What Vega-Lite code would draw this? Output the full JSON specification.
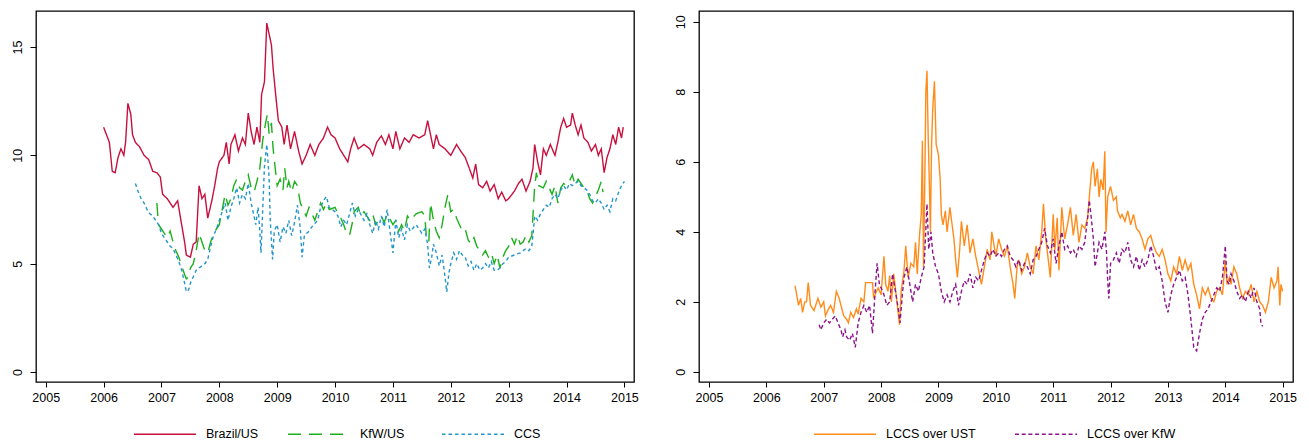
{
  "$schema": "https://vega.github.io/schema/vega-lite/v6.json",
  "background": "white",
  "padding": {"left": 10, "top": 10, "right": 0, "bottom": 0},
  "bounds": "flush",
  "spacing": 65,
  "config": {
    "font": "Liberation Sans",
    "view": {"stroke": "black", "strokeWidth": 1.3},
    "axis": {
      "domain": false, "grid": false, "title": null,
      "tickColor": "black", "tickSize": 6, "tickWidth": 1,
      "labelFont": "Liberation Sans", "labelFontSize": 12.5, "labelColor": "black",
      "labelOverlap": false, "labelFlush": false
    },
    "legend": {
      "orient": "none", "direction": "horizontal", "title": null,
      "symbolType": "stroke", "symbolSize": 3844, "symbolStrokeWidth": 1.4,
      "labelFont": "Liberation Sans", "labelFontSize": 12.5, "labelColor": "black",
      "labelOffset": 9, "gridAlign": "all", "columns": 3
    }
  },
  "datasets": {
    "left": [
      {"t":2006.0,"s":"Brazil/US","v":11.3},{"t":2006.05,"s":"Brazil/US","v":10.95},{"t":2006.1,"s":"Brazil/US","v":10.6},{"t":2006.15,"s":"Brazil/US","v":9.26},{"t":2006.2,"s":"Brazil/US","v":9.2},{"t":2006.25,"s":"Brazil/US","v":9.9},{"t":2006.3,"s":"Brazil/US","v":10.3},{"t":2006.35,"s":"Brazil/US","v":10.0},{"t":2006.38,"s":"Brazil/US","v":10.6},{"t":2006.42,"s":"Brazil/US","v":12.4},{"t":2006.47,"s":"Brazil/US","v":11.9},{"t":2006.5,"s":"Brazil/US","v":10.95},{"t":2006.55,"s":"Brazil/US","v":10.6},{"t":2006.62,"s":"Brazil/US","v":10.4},{"t":2006.7,"s":"Brazil/US","v":10.0},{"t":2006.78,"s":"Brazil/US","v":9.8},{"t":2006.85,"s":"Brazil/US","v":9.26},{"t":2006.92,"s":"Brazil/US","v":9.2},{"t":2006.98,"s":"Brazil/US","v":9.0},{"t":2007.02,"s":"Brazil/US","v":8.2},{"t":2007.1,"s":"Brazil/US","v":8.0},{"t":2007.2,"s":"Brazil/US","v":7.6},{"t":2007.28,"s":"Brazil/US","v":7.9},{"t":2007.33,"s":"Brazil/US","v":7.1},{"t":2007.4,"s":"Brazil/US","v":6.0},{"t":2007.43,"s":"Brazil/US","v":5.4},{"t":2007.5,"s":"Brazil/US","v":5.3},{"t":2007.55,"s":"Brazil/US","v":5.9},{"t":2007.6,"s":"Brazil/US","v":6.0},{"t":2007.65,"s":"Brazil/US","v":8.6},{"t":2007.7,"s":"Brazil/US","v":8.0},{"t":2007.75,"s":"Brazil/US","v":8.2},{"t":2007.8,"s":"Brazil/US","v":7.1},{"t":2007.87,"s":"Brazil/US","v":7.9},{"t":2007.92,"s":"Brazil/US","v":8.6},{"t":2007.97,"s":"Brazil/US","v":9.4},{"t":2008.0,"s":"Brazil/US","v":9.7},{"t":2008.08,"s":"Brazil/US","v":10.0},{"t":2008.12,"s":"Brazil/US","v":10.6},{"t":2008.17,"s":"Brazil/US","v":9.6},{"t":2008.2,"s":"Brazil/US","v":10.5},{"t":2008.27,"s":"Brazil/US","v":10.95},{"t":2008.33,"s":"Brazil/US","v":10.2},{"t":2008.4,"s":"Brazil/US","v":10.8},{"t":2008.45,"s":"Brazil/US","v":10.5},{"t":2008.5,"s":"Brazil/US","v":11.95},{"t":2008.55,"s":"Brazil/US","v":11.1},{"t":2008.6,"s":"Brazil/US","v":10.5},{"t":2008.65,"s":"Brazil/US","v":11.3},{"t":2008.7,"s":"Brazil/US","v":10.6},{"t":2008.73,"s":"Brazil/US","v":12.8},{"t":2008.78,"s":"Brazil/US","v":13.4},{"t":2008.82,"s":"Brazil/US","v":16.1},{"t":2008.86,"s":"Brazil/US","v":15.6},{"t":2008.9,"s":"Brazil/US","v":15.1},{"t":2008.93,"s":"Brazil/US","v":14.0},{"t":2008.97,"s":"Brazil/US","v":12.9},{"t":2009.02,"s":"Brazil/US","v":11.6},{"t":2009.08,"s":"Brazil/US","v":11.3},{"t":2009.12,"s":"Brazil/US","v":10.5},{"t":2009.17,"s":"Brazil/US","v":11.4},{"t":2009.23,"s":"Brazil/US","v":10.3},{"t":2009.3,"s":"Brazil/US","v":11.1},{"t":2009.37,"s":"Brazil/US","v":10.2},{"t":2009.43,"s":"Brazil/US","v":9.6},{"t":2009.5,"s":"Brazil/US","v":10.0},{"t":2009.57,"s":"Brazil/US","v":10.5},{"t":2009.65,"s":"Brazil/US","v":10.0},{"t":2009.72,"s":"Brazil/US","v":10.5},{"t":2009.8,"s":"Brazil/US","v":10.8},{"t":2009.87,"s":"Brazil/US","v":11.3},{"t":2009.93,"s":"Brazil/US","v":10.95},{"t":2010.0,"s":"Brazil/US","v":10.8},{"t":2010.08,"s":"Brazil/US","v":10.3},{"t":2010.15,"s":"Brazil/US","v":10.0},{"t":2010.22,"s":"Brazil/US","v":9.7},{"t":2010.27,"s":"Brazil/US","v":10.3},{"t":2010.33,"s":"Brazil/US","v":10.8},{"t":2010.4,"s":"Brazil/US","v":10.3},{"t":2010.5,"s":"Brazil/US","v":10.5},{"t":2010.6,"s":"Brazil/US","v":10.3},{"t":2010.65,"s":"Brazil/US","v":10.0},{"t":2010.72,"s":"Brazil/US","v":10.6},{"t":2010.8,"s":"Brazil/US","v":10.9},{"t":2010.87,"s":"Brazil/US","v":10.5},{"t":2010.93,"s":"Brazil/US","v":10.95},{"t":2011.0,"s":"Brazil/US","v":10.3},{"t":2011.05,"s":"Brazil/US","v":11.1},{"t":2011.12,"s":"Brazil/US","v":10.3},{"t":2011.2,"s":"Brazil/US","v":10.8},{"t":2011.28,"s":"Brazil/US","v":10.6},{"t":2011.35,"s":"Brazil/US","v":10.95},{"t":2011.45,"s":"Brazil/US","v":10.8},{"t":2011.55,"s":"Brazil/US","v":10.95},{"t":2011.6,"s":"Brazil/US","v":11.6},{"t":2011.65,"s":"Brazil/US","v":10.95},{"t":2011.7,"s":"Brazil/US","v":10.3},{"t":2011.75,"s":"Brazil/US","v":10.95},{"t":2011.8,"s":"Brazil/US","v":10.5},{"t":2011.9,"s":"Brazil/US","v":10.3},{"t":2012.0,"s":"Brazil/US","v":10.0},{"t":2012.1,"s":"Brazil/US","v":10.5},{"t":2012.17,"s":"Brazil/US","v":10.2},{"t":2012.25,"s":"Brazil/US","v":9.9},{"t":2012.32,"s":"Brazil/US","v":9.4},{"t":2012.38,"s":"Brazil/US","v":8.95},{"t":2012.43,"s":"Brazil/US","v":9.6},{"t":2012.48,"s":"Brazil/US","v":8.65},{"t":2012.55,"s":"Brazil/US","v":8.5},{"t":2012.62,"s":"Brazil/US","v":8.8},{"t":2012.68,"s":"Brazil/US","v":8.35},{"t":2012.75,"s":"Brazil/US","v":8.65},{"t":2012.82,"s":"Brazil/US","v":8.0},{"t":2012.88,"s":"Brazil/US","v":8.3},{"t":2012.95,"s":"Brazil/US","v":7.9},{"t":2013.0,"s":"Brazil/US","v":8.0},{"t":2013.1,"s":"Brazil/US","v":8.35},{"t":2013.17,"s":"Brazil/US","v":8.7},{"t":2013.23,"s":"Brazil/US","v":8.9},{"t":2013.3,"s":"Brazil/US","v":8.35},{"t":2013.37,"s":"Brazil/US","v":8.8},{"t":2013.42,"s":"Brazil/US","v":9.4},{"t":2013.45,"s":"Brazil/US","v":10.5},{"t":2013.5,"s":"Brazil/US","v":9.7},{"t":2013.55,"s":"Brazil/US","v":9.1},{"t":2013.6,"s":"Brazil/US","v":10.3},{"t":2013.65,"s":"Brazil/US","v":10.0},{"t":2013.72,"s":"Brazil/US","v":10.5},{"t":2013.8,"s":"Brazil/US","v":10.0},{"t":2013.85,"s":"Brazil/US","v":10.6},{"t":2013.9,"s":"Brazil/US","v":11.3},{"t":2013.95,"s":"Brazil/US","v":11.7},{"t":2014.0,"s":"Brazil/US","v":11.3},{"t":2014.07,"s":"Brazil/US","v":11.4},{"t":2014.1,"s":"Brazil/US","v":11.95},{"t":2014.15,"s":"Brazil/US","v":11.4},{"t":2014.2,"s":"Brazil/US","v":10.95},{"t":2014.25,"s":"Brazil/US","v":11.4},{"t":2014.3,"s":"Brazil/US","v":10.8},{"t":2014.37,"s":"Brazil/US","v":10.6},{"t":2014.43,"s":"Brazil/US","v":10.2},{"t":2014.5,"s":"Brazil/US","v":10.5},{"t":2014.55,"s":"Brazil/US","v":10.0},{"t":2014.6,"s":"Brazil/US","v":10.3},{"t":2014.65,"s":"Brazil/US","v":9.2},{"t":2014.7,"s":"Brazil/US","v":9.9},{"t":2014.75,"s":"Brazil/US","v":10.3},{"t":2014.8,"s":"Brazil/US","v":10.95},{"t":2014.85,"s":"Brazil/US","v":10.5},{"t":2014.9,"s":"Brazil/US","v":11.3},{"t":2014.95,"s":"Brazil/US","v":10.8},{"t":2014.98,"s":"Brazil/US","v":11.3},
      {"t":2006.92,"s":"KfW/US","v":7.8},{"t":2006.95,"s":"KfW/US","v":6.8},{"t":2007.0,"s":"KfW/US","v":6.6},{"t":2007.05,"s":"KfW/US","v":6.4},{"t":2007.1,"s":"KfW/US","v":6.2},{"t":2007.15,"s":"KfW/US","v":6.5},{"t":2007.2,"s":"KfW/US","v":6.0},{"t":2007.25,"s":"KfW/US","v":5.6},{"t":2007.3,"s":"KfW/US","v":5.3},{"t":2007.35,"s":"KfW/US","v":4.9},{"t":2007.4,"s":"KfW/US","v":4.5},{"t":2007.43,"s":"KfW/US","v":4.3},{"t":2007.47,"s":"KfW/US","v":4.4},{"t":2007.5,"s":"KfW/US","v":4.8},{"t":2007.55,"s":"KfW/US","v":5.0},{"t":2007.6,"s":"KfW/US","v":5.6},{"t":2007.65,"s":"KfW/US","v":6.4},{"t":2007.7,"s":"KfW/US","v":6.0},{"t":2007.75,"s":"KfW/US","v":5.6},{"t":2007.8,"s":"KfW/US","v":5.5},{"t":2007.85,"s":"KfW/US","v":6.0},{"t":2007.9,"s":"KfW/US","v":6.4},{"t":2007.95,"s":"KfW/US","v":6.6},{"t":2008.0,"s":"KfW/US","v":6.8},{"t":2008.05,"s":"KfW/US","v":7.5},{"t":2008.1,"s":"KfW/US","v":8.2},{"t":2008.15,"s":"KfW/US","v":7.7},{"t":2008.2,"s":"KfW/US","v":8.0},{"t":2008.25,"s":"KfW/US","v":8.6},{"t":2008.3,"s":"KfW/US","v":8.9},{"t":2008.35,"s":"KfW/US","v":8.5},{"t":2008.4,"s":"KfW/US","v":8.4},{"t":2008.45,"s":"KfW/US","v":8.8},{"t":2008.5,"s":"KfW/US","v":9.1},{"t":2008.55,"s":"KfW/US","v":8.5},{"t":2008.6,"s":"KfW/US","v":8.3},{"t":2008.65,"s":"KfW/US","v":8.8},{"t":2008.7,"s":"KfW/US","v":9.4},{"t":2008.75,"s":"KfW/US","v":10.7},{"t":2008.8,"s":"KfW/US","v":11.5},{"t":2008.83,"s":"KfW/US","v":11.9},{"t":2008.86,"s":"KfW/US","v":11.0},{"t":2008.9,"s":"KfW/US","v":11.5},{"t":2008.93,"s":"KfW/US","v":10.3},{"t":2008.97,"s":"KfW/US","v":9.3},{"t":2009.0,"s":"KfW/US","v":8.6},{"t":2009.05,"s":"KfW/US","v":8.9},{"t":2009.1,"s":"KfW/US","v":8.4},{"t":2009.13,"s":"KfW/US","v":9.4},{"t":2009.17,"s":"KfW/US","v":8.5},{"t":2009.2,"s":"KfW/US","v":8.8},{"t":2009.25,"s":"KfW/US","v":8.3},{"t":2009.3,"s":"KfW/US","v":8.8},{"t":2009.35,"s":"KfW/US","v":8.6},{"t":2009.4,"s":"KfW/US","v":7.8},{"t":2009.45,"s":"KfW/US","v":7.5},{"t":2009.5,"s":"KfW/US","v":7.2},{"t":2009.55,"s":"KfW/US","v":7.6},{"t":2009.6,"s":"KfW/US","v":7.3},{"t":2009.65,"s":"KfW/US","v":7.0},{"t":2009.7,"s":"KfW/US","v":7.4},{"t":2009.75,"s":"KfW/US","v":7.8},{"t":2009.8,"s":"KfW/US","v":7.5},{"t":2009.85,"s":"KfW/US","v":7.8},{"t":2009.9,"s":"KfW/US","v":7.5},{"t":2010.0,"s":"KfW/US","v":7.6},{"t":2010.05,"s":"KfW/US","v":7.3},{"t":2010.1,"s":"KfW/US","v":7.1},{"t":2010.15,"s":"KfW/US","v":6.8},{"t":2010.2,"s":"KfW/US","v":6.4},{"t":2010.25,"s":"KfW/US","v":6.3},{"t":2010.3,"s":"KfW/US","v":6.9},{"t":2010.33,"s":"KfW/US","v":7.4},{"t":2010.4,"s":"KfW/US","v":7.6},{"t":2010.45,"s":"KfW/US","v":7.2},{"t":2010.5,"s":"KfW/US","v":7.4},{"t":2010.6,"s":"KfW/US","v":7.0},{"t":2010.65,"s":"KfW/US","v":7.3},{"t":2010.7,"s":"KfW/US","v":6.8},{"t":2010.8,"s":"KfW/US","v":7.2},{"t":2010.85,"s":"KfW/US","v":6.9},{"t":2010.9,"s":"KfW/US","v":7.3},{"t":2011.0,"s":"KfW/US","v":6.8},{"t":2011.05,"s":"KfW/US","v":7.0},{"t":2011.1,"s":"KfW/US","v":6.5},{"t":2011.15,"s":"KfW/US","v":6.8},{"t":2011.2,"s":"KfW/US","v":6.5},{"t":2011.25,"s":"KfW/US","v":7.2},{"t":2011.3,"s":"KfW/US","v":7.0},{"t":2011.4,"s":"KfW/US","v":7.3},{"t":2011.5,"s":"KfW/US","v":7.4},{"t":2011.55,"s":"KfW/US","v":7.2},{"t":2011.58,"s":"KfW/US","v":6.2},{"t":2011.62,"s":"KfW/US","v":6.0},{"t":2011.65,"s":"KfW/US","v":7.8},{"t":2011.7,"s":"KfW/US","v":7.0},{"t":2011.75,"s":"KfW/US","v":6.5},{"t":2011.8,"s":"KfW/US","v":6.2},{"t":2011.85,"s":"KfW/US","v":6.8},{"t":2011.9,"s":"KfW/US","v":7.6},{"t":2011.95,"s":"KfW/US","v":8.2},{"t":2012.0,"s":"KfW/US","v":7.4},{"t":2012.05,"s":"KfW/US","v":7.5},{"t":2012.1,"s":"KfW/US","v":7.1},{"t":2012.15,"s":"KfW/US","v":6.8},{"t":2012.2,"s":"KfW/US","v":6.5},{"t":2012.25,"s":"KfW/US","v":6.6},{"t":2012.3,"s":"KfW/US","v":6.1},{"t":2012.35,"s":"KfW/US","v":5.9},{"t":2012.4,"s":"KfW/US","v":6.2},{"t":2012.45,"s":"KfW/US","v":5.8},{"t":2012.5,"s":"KfW/US","v":5.6},{"t":2012.55,"s":"KfW/US","v":5.4},{"t":2012.6,"s":"KfW/US","v":5.6},{"t":2012.65,"s":"KfW/US","v":5.3},{"t":2012.7,"s":"KfW/US","v":5.5},{"t":2012.75,"s":"KfW/US","v":5.0},{"t":2012.8,"s":"KfW/US","v":5.4},{"t":2012.85,"s":"KfW/US","v":4.8},{"t":2012.9,"s":"KfW/US","v":5.3},{"t":2012.95,"s":"KfW/US","v":5.6},{"t":2013.0,"s":"KfW/US","v":5.8},{"t":2013.05,"s":"KfW/US","v":6.2},{"t":2013.1,"s":"KfW/US","v":5.9},{"t":2013.15,"s":"KfW/US","v":6.3},{"t":2013.2,"s":"KfW/US","v":5.9},{"t":2013.25,"s":"KfW/US","v":6.0},{"t":2013.3,"s":"KfW/US","v":6.3},{"t":2013.35,"s":"KfW/US","v":6.0},{"t":2013.4,"s":"KfW/US","v":6.3},{"t":2013.43,"s":"KfW/US","v":7.7},{"t":2013.45,"s":"KfW/US","v":8.6},{"t":2013.48,"s":"KfW/US","v":9.2},{"t":2013.52,"s":"KfW/US","v":8.6},{"t":2013.6,"s":"KfW/US","v":8.5},{"t":2013.65,"s":"KfW/US","v":8.8},{"t":2013.7,"s":"KfW/US","v":8.5},{"t":2013.75,"s":"KfW/US","v":8.2},{"t":2013.8,"s":"KfW/US","v":8.6},{"t":2013.85,"s":"KfW/US","v":7.8},{"t":2013.9,"s":"KfW/US","v":8.5},{"t":2013.95,"s":"KfW/US","v":8.7},{"t":2014.0,"s":"KfW/US","v":8.6},{"t":2014.05,"s":"KfW/US","v":8.8},{"t":2014.1,"s":"KfW/US","v":9.1},{"t":2014.15,"s":"KfW/US","v":8.6},{"t":2014.2,"s":"KfW/US","v":8.9},{"t":2014.25,"s":"KfW/US","v":8.7},{"t":2014.3,"s":"KfW/US","v":8.5},{"t":2014.35,"s":"KfW/US","v":8.4},{"t":2014.4,"s":"KfW/US","v":8.0},{"t":2014.45,"s":"KfW/US","v":7.8},{"t":2014.5,"s":"KfW/US","v":8.1},{"t":2014.55,"s":"KfW/US","v":8.4},{"t":2014.6,"s":"KfW/US","v":8.8},{"t":2014.63,"s":"KfW/US","v":8.3},
      {"t":2006.55,"s":"CCS","v":8.7},{"t":2006.6,"s":"CCS","v":8.3},{"t":2006.65,"s":"CCS","v":8.0},{"t":2006.7,"s":"CCS","v":7.8},{"t":2006.75,"s":"CCS","v":7.5},{"t":2006.8,"s":"CCS","v":7.3},{"t":2006.85,"s":"CCS","v":7.2},{"t":2006.9,"s":"CCS","v":7.0},{"t":2006.95,"s":"CCS","v":6.8},{"t":2007.0,"s":"CCS","v":6.4},{"t":2007.05,"s":"CCS","v":6.2},{"t":2007.1,"s":"CCS","v":6.0},{"t":2007.15,"s":"CCS","v":5.8},{"t":2007.2,"s":"CCS","v":5.7},{"t":2007.25,"s":"CCS","v":5.4},{"t":2007.3,"s":"CCS","v":5.1},{"t":2007.35,"s":"CCS","v":4.7},{"t":2007.4,"s":"CCS","v":4.1},{"t":2007.43,"s":"CCS","v":3.7},{"t":2007.47,"s":"CCS","v":3.8},{"t":2007.5,"s":"CCS","v":4.1},{"t":2007.55,"s":"CCS","v":4.4},{"t":2007.6,"s":"CCS","v":4.7},{"t":2007.7,"s":"CCS","v":4.9},{"t":2007.75,"s":"CCS","v":5.0},{"t":2007.8,"s":"CCS","v":5.2},{"t":2007.85,"s":"CCS","v":5.8},{"t":2007.9,"s":"CCS","v":6.3},{"t":2007.95,"s":"CCS","v":6.6},{"t":2008.0,"s":"CCS","v":7.0},{"t":2008.05,"s":"CCS","v":7.4},{"t":2008.1,"s":"CCS","v":7.8},{"t":2008.15,"s":"CCS","v":7.0},{"t":2008.2,"s":"CCS","v":7.6},{"t":2008.25,"s":"CCS","v":8.0},{"t":2008.3,"s":"CCS","v":8.5},{"t":2008.35,"s":"CCS","v":7.8},{"t":2008.4,"s":"CCS","v":8.2},{"t":2008.45,"s":"CCS","v":8.0},{"t":2008.5,"s":"CCS","v":8.7},{"t":2008.55,"s":"CCS","v":7.8},{"t":2008.6,"s":"CCS","v":7.2},{"t":2008.63,"s":"CCS","v":6.8},{"t":2008.67,"s":"CCS","v":7.6},{"t":2008.7,"s":"CCS","v":6.5},{"t":2008.72,"s":"CCS","v":5.5},{"t":2008.75,"s":"CCS","v":7.5},{"t":2008.78,"s":"CCS","v":9.5},{"t":2008.82,"s":"CCS","v":10.5},{"t":2008.86,"s":"CCS","v":9.0},{"t":2008.88,"s":"CCS","v":7.0},{"t":2008.92,"s":"CCS","v":5.2},{"t":2008.95,"s":"CCS","v":6.5},{"t":2009.0,"s":"CCS","v":6.8},{"t":2009.05,"s":"CCS","v":6.0},{"t":2009.1,"s":"CCS","v":6.7},{"t":2009.15,"s":"CCS","v":6.4},{"t":2009.2,"s":"CCS","v":7.0},{"t":2009.25,"s":"CCS","v":6.3},{"t":2009.3,"s":"CCS","v":6.9},{"t":2009.35,"s":"CCS","v":7.7},{"t":2009.4,"s":"CCS","v":6.6},{"t":2009.43,"s":"CCS","v":5.3},{"t":2009.47,"s":"CCS","v":6.3},{"t":2009.55,"s":"CCS","v":6.5},{"t":2009.6,"s":"CCS","v":6.7},{"t":2009.7,"s":"CCS","v":7.0},{"t":2009.75,"s":"CCS","v":7.6},{"t":2009.8,"s":"CCS","v":7.9},{"t":2009.85,"s":"CCS","v":8.1},{"t":2009.9,"s":"CCS","v":7.6},{"t":2010.0,"s":"CCS","v":7.4},{"t":2010.05,"s":"CCS","v":7.2},{"t":2010.1,"s":"CCS","v":6.7},{"t":2010.15,"s":"CCS","v":7.0},{"t":2010.2,"s":"CCS","v":6.8},{"t":2010.25,"s":"CCS","v":7.3},{"t":2010.3,"s":"CCS","v":7.8},{"t":2010.35,"s":"CCS","v":7.2},{"t":2010.4,"s":"CCS","v":7.5},{"t":2010.5,"s":"CCS","v":7.0},{"t":2010.55,"s":"CCS","v":7.3},{"t":2010.6,"s":"CCS","v":6.8},{"t":2010.65,"s":"CCS","v":6.4},{"t":2010.7,"s":"CCS","v":7.0},{"t":2010.75,"s":"CCS","v":6.6},{"t":2010.8,"s":"CCS","v":7.2},{"t":2010.85,"s":"CCS","v":6.7},{"t":2010.9,"s":"CCS","v":7.5},{"t":2010.95,"s":"CCS","v":6.5},{"t":2011.0,"s":"CCS","v":5.5},{"t":2011.05,"s":"CCS","v":7.0},{"t":2011.1,"s":"CCS","v":6.2},{"t":2011.15,"s":"CCS","v":6.6},{"t":2011.2,"s":"CCS","v":6.1},{"t":2011.25,"s":"CCS","v":6.8},{"t":2011.3,"s":"CCS","v":6.5},{"t":2011.4,"s":"CCS","v":6.8},{"t":2011.5,"s":"CCS","v":6.4},{"t":2011.55,"s":"CCS","v":6.6},{"t":2011.6,"s":"CCS","v":5.9},{"t":2011.63,"s":"CCS","v":4.8},{"t":2011.67,"s":"CCS","v":5.3},{"t":2011.7,"s":"CCS","v":5.9},{"t":2011.75,"s":"CCS","v":5.5},{"t":2011.8,"s":"CCS","v":4.9},{"t":2011.85,"s":"CCS","v":5.4},{"t":2011.9,"s":"CCS","v":4.4},{"t":2011.93,"s":"CCS","v":3.7},{"t":2011.97,"s":"CCS","v":4.6},{"t":2012.0,"s":"CCS","v":5.0},{"t":2012.05,"s":"CCS","v":5.5},{"t":2012.1,"s":"CCS","v":5.2},{"t":2012.15,"s":"CCS","v":5.6},{"t":2012.2,"s":"CCS","v":5.4},{"t":2012.25,"s":"CCS","v":5.3},{"t":2012.3,"s":"CCS","v":4.9},{"t":2012.35,"s":"CCS","v":5.1},{"t":2012.4,"s":"CCS","v":4.7},{"t":2012.45,"s":"CCS","v":5.0},{"t":2012.5,"s":"CCS","v":4.7},{"t":2012.55,"s":"CCS","v":4.8},{"t":2012.6,"s":"CCS","v":5.0},{"t":2012.65,"s":"CCS","v":4.8},{"t":2012.7,"s":"CCS","v":5.1},{"t":2012.75,"s":"CCS","v":4.7},{"t":2012.8,"s":"CCS","v":4.7},{"t":2012.85,"s":"CCS","v":4.8},{"t":2012.9,"s":"CCS","v":5.0},{"t":2012.95,"s":"CCS","v":5.1},{"t":2013.0,"s":"CCS","v":5.3},{"t":2013.1,"s":"CCS","v":5.4},{"t":2013.2,"s":"CCS","v":5.5},{"t":2013.3,"s":"CCS","v":5.7},{"t":2013.35,"s":"CCS","v":5.6},{"t":2013.4,"s":"CCS","v":5.8},{"t":2013.43,"s":"CCS","v":6.6},{"t":2013.45,"s":"CCS","v":7.2},{"t":2013.5,"s":"CCS","v":7.0},{"t":2013.55,"s":"CCS","v":7.3},{"t":2013.6,"s":"CCS","v":7.5},{"t":2013.65,"s":"CCS","v":7.7},{"t":2013.7,"s":"CCS","v":7.6},{"t":2013.75,"s":"CCS","v":8.0},{"t":2013.8,"s":"CCS","v":8.2},{"t":2013.85,"s":"CCS","v":8.0},{"t":2013.9,"s":"CCS","v":8.4},{"t":2013.95,"s":"CCS","v":8.6},{"t":2014.0,"s":"CCS","v":8.4},{"t":2014.05,"s":"CCS","v":8.7},{"t":2014.1,"s":"CCS","v":8.6},{"t":2014.15,"s":"CCS","v":8.7},{"t":2014.2,"s":"CCS","v":8.8},{"t":2014.25,"s":"CCS","v":8.6},{"t":2014.3,"s":"CCS","v":8.5},{"t":2014.35,"s":"CCS","v":8.4},{"t":2014.4,"s":"CCS","v":8.2},{"t":2014.45,"s":"CCS","v":7.9},{"t":2014.5,"s":"CCS","v":7.8},{"t":2014.55,"s":"CCS","v":8.0},{"t":2014.6,"s":"CCS","v":7.8},{"t":2014.65,"s":"CCS","v":7.5},{"t":2014.7,"s":"CCS","v":7.7},{"t":2014.75,"s":"CCS","v":7.4},{"t":2014.8,"s":"CCS","v":8.0},{"t":2014.85,"s":"CCS","v":7.9},{"t":2014.9,"s":"CCS","v":8.3},{"t":2014.95,"s":"CCS","v":8.6},{"t":2015.0,"s":"CCS","v":8.8}
    ],
    "right": [
      {"t":2006.5,"s":"LCCS over UST","v":2.46},{"t":2006.53,"s":"LCCS over UST","v":2.2},{"t":2006.56,"s":"LCCS over UST","v":1.9},{"t":2006.6,"s":"LCCS over UST","v":2.1},{"t":2006.63,"s":"LCCS over UST","v":1.7},{"t":2006.67,"s":"LCCS over UST","v":2.0},{"t":2006.7,"s":"LCCS over UST","v":2.0},{"t":2006.73,"s":"LCCS over UST","v":2.55},{"t":2006.77,"s":"LCCS over UST","v":1.9},{"t":2006.83,"s":"LCCS over UST","v":1.75},{"t":2006.9,"s":"LCCS over UST","v":2.1},{"t":2006.95,"s":"LCCS over UST","v":1.85},{"t":2007.0,"s":"LCCS over UST","v":2.0},{"t":2007.03,"s":"LCCS over UST","v":1.6},{"t":2007.07,"s":"LCCS over UST","v":1.75},{"t":2007.12,"s":"LCCS over UST","v":1.9},{"t":2007.17,"s":"LCCS over UST","v":1.7},{"t":2007.22,"s":"LCCS over UST","v":2.3},{"t":2007.27,"s":"LCCS over UST","v":2.1},{"t":2007.3,"s":"LCCS over UST","v":1.9},{"t":2007.35,"s":"LCCS over UST","v":1.6},{"t":2007.4,"s":"LCCS over UST","v":1.5},{"t":2007.43,"s":"LCCS over UST","v":1.4},{"t":2007.47,"s":"LCCS over UST","v":1.7},{"t":2007.52,"s":"LCCS over UST","v":1.55},{"t":2007.57,"s":"LCCS over UST","v":1.8},{"t":2007.6,"s":"LCCS over UST","v":1.65},{"t":2007.65,"s":"LCCS over UST","v":2.1},{"t":2007.7,"s":"LCCS over UST","v":2.0},{"t":2007.73,"s":"LCCS over UST","v":2.55},{"t":2007.8,"s":"LCCS over UST","v":2.55},{"t":2007.85,"s":"LCCS over UST","v":2.55},{"t":2007.87,"s":"LCCS over UST","v":2.1},{"t":2007.92,"s":"LCCS over UST","v":2.3},{"t":2007.95,"s":"LCCS over UST","v":2.4},{"t":2008.0,"s":"LCCS over UST","v":2.2},{"t":2008.05,"s":"LCCS over UST","v":3.3},{"t":2008.08,"s":"LCCS over UST","v":2.5},{"t":2008.12,"s":"LCCS over UST","v":2.3},{"t":2008.15,"s":"LCCS over UST","v":2.75},{"t":2008.18,"s":"LCCS over UST","v":2.0},{"t":2008.22,"s":"LCCS over UST","v":2.8},{"t":2008.27,"s":"LCCS over UST","v":2.1},{"t":2008.32,"s":"LCCS over UST","v":1.35},{"t":2008.35,"s":"LCCS over UST","v":2.3},{"t":2008.4,"s":"LCCS over UST","v":2.9},{"t":2008.43,"s":"LCCS over UST","v":3.6},{"t":2008.47,"s":"LCCS over UST","v":2.7},{"t":2008.52,"s":"LCCS over UST","v":3.1},{"t":2008.57,"s":"LCCS over UST","v":3.0},{"t":2008.6,"s":"LCCS over UST","v":3.7},{"t":2008.63,"s":"LCCS over UST","v":2.8},{"t":2008.67,"s":"LCCS over UST","v":3.9},{"t":2008.7,"s":"LCCS over UST","v":4.5},{"t":2008.72,"s":"LCCS over UST","v":6.6},{"t":2008.74,"s":"LCCS over UST","v":3.0},{"t":2008.76,"s":"LCCS over UST","v":5.2},{"t":2008.78,"s":"LCCS over UST","v":8.0},{"t":2008.8,"s":"LCCS over UST","v":8.6},{"t":2008.82,"s":"LCCS over UST","v":6.8},{"t":2008.84,"s":"LCCS over UST","v":5.5},{"t":2008.86,"s":"LCCS over UST","v":4.0},{"t":2008.88,"s":"LCCS over UST","v":6.5},{"t":2008.9,"s":"LCCS over UST","v":7.5},{"t":2008.93,"s":"LCCS over UST","v":8.3},{"t":2008.96,"s":"LCCS over UST","v":6.5},{"t":2009.0,"s":"LCCS over UST","v":6.2},{"t":2009.03,"s":"LCCS over UST","v":5.5},{"t":2009.05,"s":"LCCS over UST","v":4.5},{"t":2009.08,"s":"LCCS over UST","v":4.2},{"t":2009.12,"s":"LCCS over UST","v":4.6},{"t":2009.15,"s":"LCCS over UST","v":4.0},{"t":2009.2,"s":"LCCS over UST","v":4.7},{"t":2009.23,"s":"LCCS over UST","v":4.3},{"t":2009.27,"s":"LCCS over UST","v":3.8},{"t":2009.3,"s":"LCCS over UST","v":3.2},{"t":2009.33,"s":"LCCS over UST","v":2.7},{"t":2009.37,"s":"LCCS over UST","v":3.5},{"t":2009.4,"s":"LCCS over UST","v":4.3},{"t":2009.45,"s":"LCCS over UST","v":3.6},{"t":2009.5,"s":"LCCS over UST","v":4.2},{"t":2009.55,"s":"LCCS over UST","v":3.4},{"t":2009.6,"s":"LCCS over UST","v":3.8},{"t":2009.65,"s":"LCCS over UST","v":3.3},{"t":2009.7,"s":"LCCS over UST","v":2.9},{"t":2009.75,"s":"LCCS over UST","v":2.5},{"t":2009.8,"s":"LCCS over UST","v":3.0},{"t":2009.85,"s":"LCCS over UST","v":3.5},{"t":2009.9,"s":"LCCS over UST","v":3.2},{"t":2009.93,"s":"LCCS over UST","v":4.0},{"t":2010.0,"s":"LCCS over UST","v":3.3},{"t":2010.05,"s":"LCCS over UST","v":3.8},{"t":2010.1,"s":"LCCS over UST","v":3.5},{"t":2010.15,"s":"LCCS over UST","v":3.3},{"t":2010.2,"s":"LCCS over UST","v":3.6},{"t":2010.25,"s":"LCCS over UST","v":3.0},{"t":2010.3,"s":"LCCS over UST","v":2.5},{"t":2010.33,"s":"LCCS over UST","v":2.1},{"t":2010.37,"s":"LCCS over UST","v":3.0},{"t":2010.4,"s":"LCCS over UST","v":3.2},{"t":2010.45,"s":"LCCS over UST","v":2.8},{"t":2010.5,"s":"LCCS over UST","v":3.0},{"t":2010.55,"s":"LCCS over UST","v":3.4},{"t":2010.6,"s":"LCCS over UST","v":3.0},{"t":2010.65,"s":"LCCS over UST","v":2.8},{"t":2010.7,"s":"LCCS over UST","v":3.6},{"t":2010.75,"s":"LCCS over UST","v":3.2},{"t":2010.8,"s":"LCCS over UST","v":4.0},{"t":2010.83,"s":"LCCS over UST","v":4.8},{"t":2010.87,"s":"LCCS over UST","v":3.8},{"t":2010.9,"s":"LCCS over UST","v":3.4},{"t":2010.95,"s":"LCCS over UST","v":2.7},{"t":2011.0,"s":"LCCS over UST","v":4.5},{"t":2011.03,"s":"LCCS over UST","v":3.5},{"t":2011.07,"s":"LCCS over UST","v":4.4},{"t":2011.1,"s":"LCCS over UST","v":2.9},{"t":2011.15,"s":"LCCS over UST","v":4.7},{"t":2011.2,"s":"LCCS over UST","v":3.8},{"t":2011.25,"s":"LCCS over UST","v":4.2},{"t":2011.3,"s":"LCCS over UST","v":4.7},{"t":2011.35,"s":"LCCS over UST","v":3.9},{"t":2011.4,"s":"LCCS over UST","v":4.5},{"t":2011.45,"s":"LCCS over UST","v":3.7},{"t":2011.5,"s":"LCCS over UST","v":4.2},{"t":2011.55,"s":"LCCS over UST","v":4.1},{"t":2011.6,"s":"LCCS over UST","v":4.4},{"t":2011.63,"s":"LCCS over UST","v":5.0},{"t":2011.67,"s":"LCCS over UST","v":5.8},{"t":2011.7,"s":"LCCS over UST","v":6.0},{"t":2011.73,"s":"LCCS over UST","v":5.3},{"t":2011.77,"s":"LCCS over UST","v":5.8},{"t":2011.8,"s":"LCCS over UST","v":5.0},{"t":2011.83,"s":"LCCS over UST","v":5.5},{"t":2011.87,"s":"LCCS over UST","v":5.2},{"t":2011.9,"s":"LCCS over UST","v":6.3},{"t":2011.92,"s":"LCCS over UST","v":4.0},{"t":2011.95,"s":"LCCS over UST","v":5.0},{"t":2012.0,"s":"LCCS over UST","v":5.3},{"t":2012.05,"s":"LCCS over UST","v":4.9},{"t":2012.1,"s":"LCCS over UST","v":5.0},{"t":2012.12,"s":"LCCS over UST","v":4.6},{"t":2012.17,"s":"LCCS over UST","v":4.4},{"t":2012.2,"s":"LCCS over UST","v":4.5},{"t":2012.25,"s":"LCCS over UST","v":4.3},{"t":2012.3,"s":"LCCS over UST","v":4.6},{"t":2012.35,"s":"LCCS over UST","v":4.2},{"t":2012.4,"s":"LCCS over UST","v":4.5},{"t":2012.45,"s":"LCCS over UST","v":4.1},{"t":2012.5,"s":"LCCS over UST","v":4.0},{"t":2012.55,"s":"LCCS over UST","v":3.8},{"t":2012.6,"s":"LCCS over UST","v":3.5},{"t":2012.65,"s":"LCCS over UST","v":3.8},{"t":2012.7,"s":"LCCS over UST","v":3.9},{"t":2012.75,"s":"LCCS over UST","v":3.6},{"t":2012.8,"s":"LCCS over UST","v":3.4},{"t":2012.85,"s":"LCCS over UST","v":3.3},{"t":2012.9,"s":"LCCS over UST","v":3.5},{"t":2012.95,"s":"LCCS over UST","v":3.2},{"t":2013.0,"s":"LCCS over UST","v":2.8},{"t":2013.05,"s":"LCCS over UST","v":2.6},{"t":2013.1,"s":"LCCS over UST","v":3.0},{"t":2013.15,"s":"LCCS over UST","v":2.8},{"t":2013.2,"s":"LCCS over UST","v":3.3},{"t":2013.25,"s":"LCCS over UST","v":2.9},{"t":2013.3,"s":"LCCS over UST","v":3.2},{"t":2013.35,"s":"LCCS over UST","v":2.9},{"t":2013.4,"s":"LCCS over UST","v":3.1},{"t":2013.45,"s":"LCCS over UST","v":2.5},{"t":2013.5,"s":"LCCS over UST","v":2.2},{"t":2013.55,"s":"LCCS over UST","v":1.8},{"t":2013.6,"s":"LCCS over UST","v":2.4},{"t":2013.65,"s":"LCCS over UST","v":2.2},{"t":2013.7,"s":"LCCS over UST","v":2.4},{"t":2013.75,"s":"LCCS over UST","v":2.1},{"t":2013.8,"s":"LCCS over UST","v":2.0},{"t":2013.85,"s":"LCCS over UST","v":2.3},{"t":2013.9,"s":"LCCS over UST","v":2.4},{"t":2013.95,"s":"LCCS over UST","v":2.2},{"t":2014.0,"s":"LCCS over UST","v":3.2},{"t":2014.03,"s":"LCCS over UST","v":2.5},{"t":2014.07,"s":"LCCS over UST","v":2.7},{"t":2014.1,"s":"LCCS over UST","v":2.5},{"t":2014.15,"s":"LCCS over UST","v":3.0},{"t":2014.2,"s":"LCCS over UST","v":2.8},{"t":2014.25,"s":"LCCS over UST","v":2.4},{"t":2014.3,"s":"LCCS over UST","v":2.1},{"t":2014.35,"s":"LCCS over UST","v":2.3},{"t":2014.4,"s":"LCCS over UST","v":2.2},{"t":2014.45,"s":"LCCS over UST","v":2.5},{"t":2014.5,"s":"LCCS over UST","v":2.0},{"t":2014.55,"s":"LCCS over UST","v":2.3},{"t":2014.6,"s":"LCCS over UST","v":2.0},{"t":2014.65,"s":"LCCS over UST","v":1.9},{"t":2014.7,"s":"LCCS over UST","v":1.7},{"t":2014.75,"s":"LCCS over UST","v":2.0},{"t":2014.8,"s":"LCCS over UST","v":2.7},{"t":2014.85,"s":"LCCS over UST","v":2.4},{"t":2014.9,"s":"LCCS over UST","v":2.6},{"t":2014.92,"s":"LCCS over UST","v":3.0},{"t":2014.95,"s":"LCCS over UST","v":1.9},{"t":2014.97,"s":"LCCS over UST","v":2.5},{"t":2015.0,"s":"LCCS over UST","v":2.3},
      {"t":2006.92,"s":"LCCS over KfW","v":1.35},{"t":2006.95,"s":"LCCS over KfW","v":1.2},{"t":2007.0,"s":"LCCS over KfW","v":1.4},{"t":2007.05,"s":"LCCS over KfW","v":1.5},{"t":2007.1,"s":"LCCS over KfW","v":1.4},{"t":2007.15,"s":"LCCS over KfW","v":1.5},{"t":2007.2,"s":"LCCS over KfW","v":1.6},{"t":2007.25,"s":"LCCS over KfW","v":1.4},{"t":2007.3,"s":"LCCS over KfW","v":1.2},{"t":2007.33,"s":"LCCS over KfW","v":1.0},{"t":2007.37,"s":"LCCS over KfW","v":1.2},{"t":2007.4,"s":"LCCS over KfW","v":1.0},{"t":2007.45,"s":"LCCS over KfW","v":0.9},{"t":2007.5,"s":"LCCS over KfW","v":1.1},{"t":2007.55,"s":"LCCS over KfW","v":0.7},{"t":2007.6,"s":"LCCS over KfW","v":1.4},{"t":2007.65,"s":"LCCS over KfW","v":1.7},{"t":2007.7,"s":"LCCS over KfW","v":1.9},{"t":2007.75,"s":"LCCS over KfW","v":1.7},{"t":2007.8,"s":"LCCS over KfW","v":1.9},{"t":2007.85,"s":"LCCS over KfW","v":1.1},{"t":2007.9,"s":"LCCS over KfW","v":2.4},{"t":2007.93,"s":"LCCS over KfW","v":3.1},{"t":2007.97,"s":"LCCS over KfW","v":2.5},{"t":2008.0,"s":"LCCS over KfW","v":2.4},{"t":2008.05,"s":"LCCS over KfW","v":2.2},{"t":2008.1,"s":"LCCS over KfW","v":1.9},{"t":2008.15,"s":"LCCS over KfW","v":2.0},{"t":2008.2,"s":"LCCS over KfW","v":2.8},{"t":2008.25,"s":"LCCS over KfW","v":2.3},{"t":2008.3,"s":"LCCS over KfW","v":1.8},{"t":2008.33,"s":"LCCS over KfW","v":1.4},{"t":2008.37,"s":"LCCS over KfW","v":2.2},{"t":2008.4,"s":"LCCS over KfW","v":2.7},{"t":2008.45,"s":"LCCS over KfW","v":3.0},{"t":2008.5,"s":"LCCS over KfW","v":2.5},{"t":2008.55,"s":"LCCS over KfW","v":2.0},{"t":2008.6,"s":"LCCS over KfW","v":2.5},{"t":2008.65,"s":"LCCS over KfW","v":2.3},{"t":2008.7,"s":"LCCS over KfW","v":2.7},{"t":2008.75,"s":"LCCS over KfW","v":3.0},{"t":2008.8,"s":"LCCS over KfW","v":4.8},{"t":2008.83,"s":"LCCS over KfW","v":3.5},{"t":2008.87,"s":"LCCS over KfW","v":4.0},{"t":2008.9,"s":"LCCS over KfW","v":3.4},{"t":2008.95,"s":"LCCS over KfW","v":3.0},{"t":2009.0,"s":"LCCS over KfW","v":2.8},{"t":2009.05,"s":"LCCS over KfW","v":2.3},{"t":2009.1,"s":"LCCS over KfW","v":2.0},{"t":2009.15,"s":"LCCS over KfW","v":2.2},{"t":2009.2,"s":"LCCS over KfW","v":2.0},{"t":2009.25,"s":"LCCS over KfW","v":2.3},{"t":2009.3,"s":"LCCS over KfW","v":2.5},{"t":2009.35,"s":"LCCS over KfW","v":1.9},{"t":2009.4,"s":"LCCS over KfW","v":2.3},{"t":2009.45,"s":"LCCS over KfW","v":2.6},{"t":2009.5,"s":"LCCS over KfW","v":2.5},{"t":2009.55,"s":"LCCS over KfW","v":2.8},{"t":2009.6,"s":"LCCS over KfW","v":2.4},{"t":2009.65,"s":"LCCS over KfW","v":2.7},{"t":2009.7,"s":"LCCS over KfW","v":2.6},{"t":2009.75,"s":"LCCS over KfW","v":2.9},{"t":2009.8,"s":"LCCS over KfW","v":3.2},{"t":2009.85,"s":"LCCS over KfW","v":3.4},{"t":2009.9,"s":"LCCS over KfW","v":3.3},{"t":2009.95,"s":"LCCS over KfW","v":3.5},{"t":2010.0,"s":"LCCS over KfW","v":3.3},{"t":2010.05,"s":"LCCS over KfW","v":3.4},{"t":2010.1,"s":"LCCS over KfW","v":3.3},{"t":2010.15,"s":"LCCS over KfW","v":3.5},{"t":2010.2,"s":"LCCS over KfW","v":3.6},{"t":2010.25,"s":"LCCS over KfW","v":3.3},{"t":2010.3,"s":"LCCS over KfW","v":3.2},{"t":2010.35,"s":"LCCS over KfW","v":3.0},{"t":2010.4,"s":"LCCS over KfW","v":3.2},{"t":2010.45,"s":"LCCS over KfW","v":2.9},{"t":2010.5,"s":"LCCS over KfW","v":3.1},{"t":2010.55,"s":"LCCS over KfW","v":3.0},{"t":2010.6,"s":"LCCS over KfW","v":2.8},{"t":2010.65,"s":"LCCS over KfW","v":3.2},{"t":2010.7,"s":"LCCS over KfW","v":3.3},{"t":2010.75,"s":"LCCS over KfW","v":3.5},{"t":2010.8,"s":"LCCS over KfW","v":3.7},{"t":2010.85,"s":"LCCS over KfW","v":4.1},{"t":2010.9,"s":"LCCS over KfW","v":3.6},{"t":2010.95,"s":"LCCS over KfW","v":3.4},{"t":2011.0,"s":"LCCS over KfW","v":3.8},{"t":2011.05,"s":"LCCS over KfW","v":3.1},{"t":2011.1,"s":"LCCS over KfW","v":3.6},{"t":2011.15,"s":"LCCS over KfW","v":4.0},{"t":2011.2,"s":"LCCS over KfW","v":3.5},{"t":2011.25,"s":"LCCS over KfW","v":3.6},{"t":2011.3,"s":"LCCS over KfW","v":3.4},{"t":2011.35,"s":"LCCS over KfW","v":3.5},{"t":2011.4,"s":"LCCS over KfW","v":3.3},{"t":2011.45,"s":"LCCS over KfW","v":3.6},{"t":2011.5,"s":"LCCS over KfW","v":3.5},{"t":2011.55,"s":"LCCS over KfW","v":3.7},{"t":2011.6,"s":"LCCS over KfW","v":4.4},{"t":2011.63,"s":"LCCS over KfW","v":4.9},{"t":2011.67,"s":"LCCS over KfW","v":4.3},{"t":2011.7,"s":"LCCS over KfW","v":3.8},{"t":2011.73,"s":"LCCS over KfW","v":3.0},{"t":2011.77,"s":"LCCS over KfW","v":3.4},{"t":2011.8,"s":"LCCS over KfW","v":3.7},{"t":2011.85,"s":"LCCS over KfW","v":3.5},{"t":2011.9,"s":"LCCS over KfW","v":4.0},{"t":2011.93,"s":"LCCS over KfW","v":3.4},{"t":2011.95,"s":"LCCS over KfW","v":2.6},{"t":2011.97,"s":"LCCS over KfW","v":2.1},{"t":2012.0,"s":"LCCS over KfW","v":3.1},{"t":2012.05,"s":"LCCS over KfW","v":3.2},{"t":2012.1,"s":"LCCS over KfW","v":3.4},{"t":2012.15,"s":"LCCS over KfW","v":3.1},{"t":2012.2,"s":"LCCS over KfW","v":3.5},{"t":2012.25,"s":"LCCS over KfW","v":3.4},{"t":2012.3,"s":"LCCS over KfW","v":3.7},{"t":2012.35,"s":"LCCS over KfW","v":3.2},{"t":2012.4,"s":"LCCS over KfW","v":3.0},{"t":2012.45,"s":"LCCS over KfW","v":3.3},{"t":2012.5,"s":"LCCS over KfW","v":2.9},{"t":2012.55,"s":"LCCS over KfW","v":3.2},{"t":2012.6,"s":"LCCS over KfW","v":3.0},{"t":2012.65,"s":"LCCS over KfW","v":3.2},{"t":2012.7,"s":"LCCS over KfW","v":3.6},{"t":2012.75,"s":"LCCS over KfW","v":3.3},{"t":2012.8,"s":"LCCS over KfW","v":2.9},{"t":2012.85,"s":"LCCS over KfW","v":3.0},{"t":2012.9,"s":"LCCS over KfW","v":2.6},{"t":2012.95,"s":"LCCS over KfW","v":2.0},{"t":2013.0,"s":"LCCS over KfW","v":1.7},{"t":2013.05,"s":"LCCS over KfW","v":2.2},{"t":2013.1,"s":"LCCS over KfW","v":2.5},{"t":2013.15,"s":"LCCS over KfW","v":2.7},{"t":2013.2,"s":"LCCS over KfW","v":2.9},{"t":2013.25,"s":"LCCS over KfW","v":2.6},{"t":2013.3,"s":"LCCS over KfW","v":2.7},{"t":2013.35,"s":"LCCS over KfW","v":2.2},{"t":2013.4,"s":"LCCS over KfW","v":1.5},{"t":2013.45,"s":"LCCS over KfW","v":0.7},{"t":2013.5,"s":"LCCS over KfW","v":0.6},{"t":2013.55,"s":"LCCS over KfW","v":1.1},{"t":2013.6,"s":"LCCS over KfW","v":1.5},{"t":2013.65,"s":"LCCS over KfW","v":1.7},{"t":2013.7,"s":"LCCS over KfW","v":1.8},{"t":2013.75,"s":"LCCS over KfW","v":2.0},{"t":2013.8,"s":"LCCS over KfW","v":2.2},{"t":2013.85,"s":"LCCS over KfW","v":2.4},{"t":2013.9,"s":"LCCS over KfW","v":2.3},{"t":2013.95,"s":"LCCS over KfW","v":2.7},{"t":2014.0,"s":"LCCS over KfW","v":3.6},{"t":2014.03,"s":"LCCS over KfW","v":2.6},{"t":2014.07,"s":"LCCS over KfW","v":2.5},{"t":2014.1,"s":"LCCS over KfW","v":2.8},{"t":2014.15,"s":"LCCS over KfW","v":2.6},{"t":2014.2,"s":"LCCS over KfW","v":2.3},{"t":2014.25,"s":"LCCS over KfW","v":2.1},{"t":2014.3,"s":"LCCS over KfW","v":2.2},{"t":2014.35,"s":"LCCS over KfW","v":2.0},{"t":2014.4,"s":"LCCS over KfW","v":2.3},{"t":2014.45,"s":"LCCS over KfW","v":2.1},{"t":2014.5,"s":"LCCS over KfW","v":2.4},{"t":2014.55,"s":"LCCS over KfW","v":2.0},{"t":2014.6,"s":"LCCS over KfW","v":1.8},{"t":2014.62,"s":"LCCS over KfW","v":1.4},{"t":2014.65,"s":"LCCS over KfW","v":1.3}
    ]
  },
  "hconcat": [
    {
      "width": 598,
      "height": 371,
      "data": {"name": "left"},
      "mark": {"type": "line", "strokeWidth": 1.4, "clip": true},
      "encoding": {
        "x": {
          "field": "t", "type": "quantitative",
          "scale": {"domain": [2004.832, 2015.166], "nice": false, "zero": false},
          "axis": {"values": [2005, 2006, 2007, 2008, 2009, 2010, 2011, 2012, 2013, 2014, 2015], "format": "d", "labelPadding": 4, "tickSize": 5}
        },
        "y": {
          "field": "v", "type": "quantitative",
          "scale": {"domain": [-0.46, 16.66], "nice": false, "zero": false},
          "axis": {"values": [0, 5, 10, 15], "labelAngle": -90, "labelPadding": 6}
        },
        "color": {
          "field": "s", "type": "nominal",
          "scale": {"domain": ["Brazil/US", "KfW/US", "CCS"], "range": ["#C8103E", "#1CB01C", "#2596CC"]},
          "legend": {"legendX": 97, "legendY": 391, "columnPadding": 26}
        },
        "strokeDash": {
          "field": "s", "type": "nominal",
          "scale": {"domain": ["Brazil/US", "KfW/US", "CCS"], "range": [[1, 0], [13, 8], [3.5, 3]]},
          "legend": {"legendX": 97, "legendY": 391, "columnPadding": 26}
        }
      }
    },
    {
      "width": 594,
      "height": 371,
      "data": {"name": "right"},
      "mark": {"type": "line", "strokeWidth": 1.4, "clip": true},
      "encoding": {
        "x": {
          "field": "t", "type": "quantitative",
          "scale": {"domain": [2004.826, 2015.18], "nice": false, "zero": false},
          "axis": {"values": [2005, 2006, 2007, 2008, 2009, 2010, 2011, 2012, 2013, 2014, 2015], "format": "d", "labelPadding": 4, "tickSize": 5}
        },
        "y": {
          "field": "v", "type": "quantitative",
          "scale": {"domain": [-0.29, 10.31], "nice": false, "zero": false},
          "axis": {"values": [0, 2, 4, 6, 8, 10], "labelAngle": -90, "labelPadding": 6}
        },
        "color": {
          "field": "s", "type": "nominal",
          "scale": {"domain": ["LCCS over UST", "LCCS over KfW"], "range": ["#FF8C1A", "#8B148B"]},
          "legend": {"legendX": 114, "legendY": 391, "columnPadding": 36, "columns": 2}
        },
        "strokeDash": {
          "field": "s", "type": "nominal",
          "scale": {"domain": ["LCCS over UST", "LCCS over KfW"], "range": [[1, 0], [4, 2.7]]},
          "legend": {"legendX": 114, "legendY": 391, "columnPadding": 36, "columns": 2}
        }
      }
    }
  ],
  "resolve": {
    "scale": {"color": "independent", "strokeDash": "independent"},
    "legend": {"color": "independent", "strokeDash": "independent"}
  }
}
